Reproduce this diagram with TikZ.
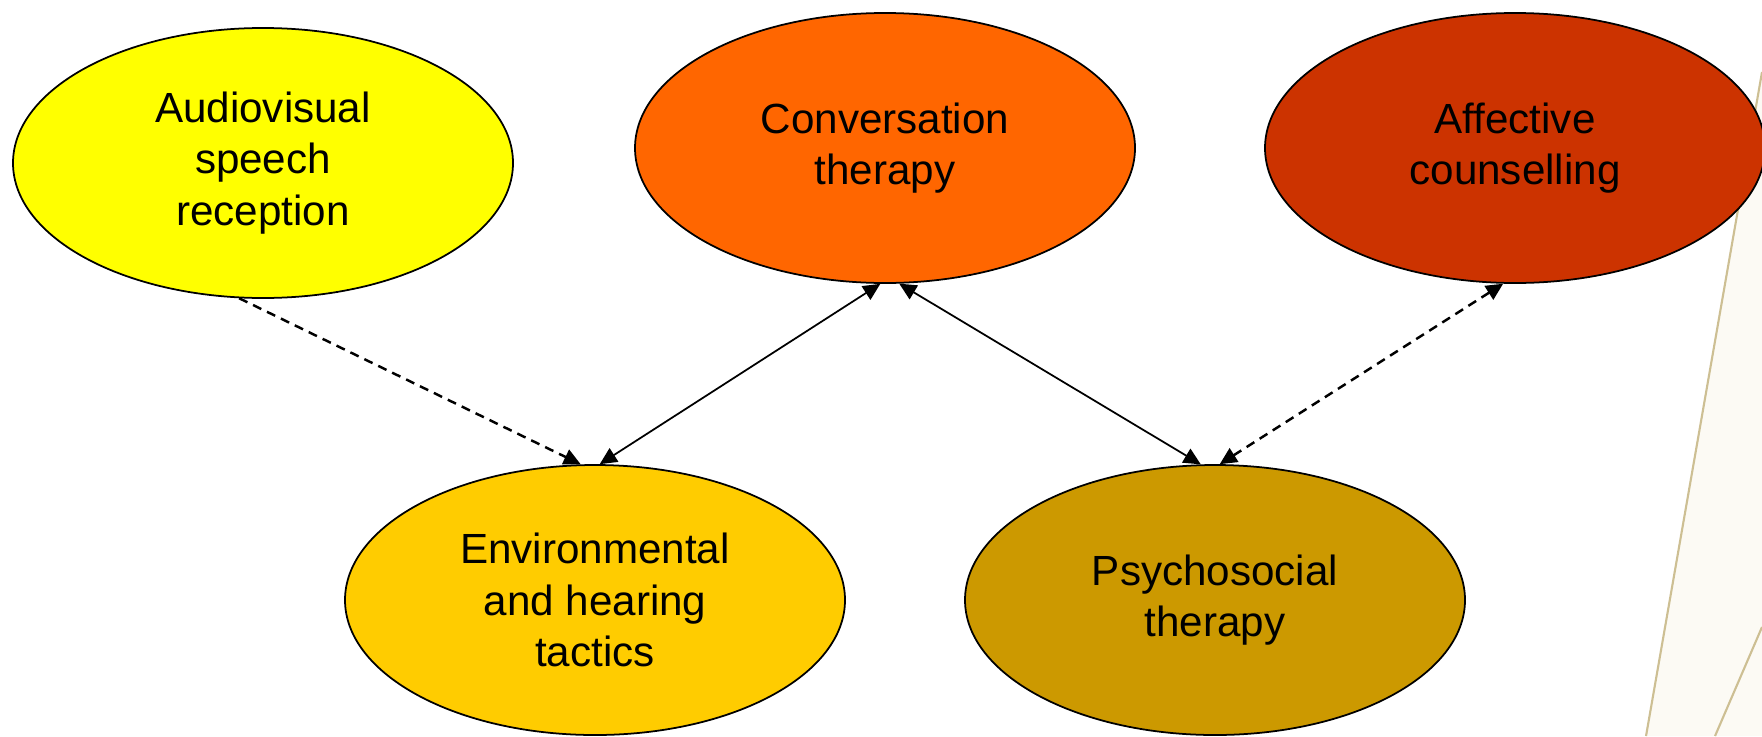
\documentclass[tikz,border=0pt]{standalone}
\usepackage{fontspec}
\setmainfont{Liberation Sans}
\usepackage{tikz}
\usetikzlibrary{shapes.geometric, arrows.meta}
\definecolor{audiocol}{HTML}{FFFF00}
\definecolor{convcol}{HTML}{FF6600}
\definecolor{affectcol}{HTML}{CC3300}
\definecolor{envcol}{HTML}{FFCC00}
\definecolor{psychocol}{HTML}{CC9900}
\definecolor{decocol}{HTML}{CDBF93}
\definecolor{creamcol}{HTML}{FCFAF4}
\tikzstyle{topic} = [ellipse, draw=black, line width=0.5pt, minimum width=5cm, minimum height=2.7cm, inner sep=0pt, align=center, font=\fontsize{12}{14.6}\selectfont]
\tikzstyle{arrow} = [line width=0.5pt, >={Triangle[length=0.17cm, width=0.16cm]}]
\tikzstyle{dasharrow} = [arrow, line width=0.7pt, dash pattern=on 2.6pt off 1.8pt]
\tikzstyle{deco} = [draw=decocol, line width=0.6pt]

\begin{document}
\begin{tikzpicture}[node distance=6.22cm]

\useasboundingbox (0,0) rectangle (17.62,-7.36);

% slide background strokes
\fill [creamcol] (17.62,-0.72) -- (16.46,-7.36) -- (17.62,-7.36) -- cycle;
\draw [deco] (17.62,-0.72) -- (16.46,-7.36);
\draw [deco] (17.62,-6.27) -- (17.15,-7.36);

\node (conv) [topic, fill=convcol] at (8.85,-1.48) {Conversation\\therapy};
\node (audio) [topic, fill=audiocol, left of=conv, yshift=-0.15cm] {Audiovisual\\speech\\reception};
\node (affect) [topic, fill=affectcol, right of=conv, xshift=0.08cm] {Affective\\counselling};

\node (env) [topic, fill=envcol, below of=conv, node distance=4.52cm, xshift=-2.9cm] {Environmental\\and hearing\\tactics};
\node (psycho) [topic, fill=psychocol, below of=conv, node distance=4.52cm, xshift=3.3cm] {Psychosocial\\therapy};

\draw [dasharrow, ->] (audio.-100) -- (env.96);
\draw [arrow, <->] (env.88) -- (conv.-92);
\draw [arrow, <->] (conv.-84) -- (psycho.96);
\draw [dasharrow, <->] (psycho.88) -- (affect.-95);

\end{tikzpicture}
\end{document}
